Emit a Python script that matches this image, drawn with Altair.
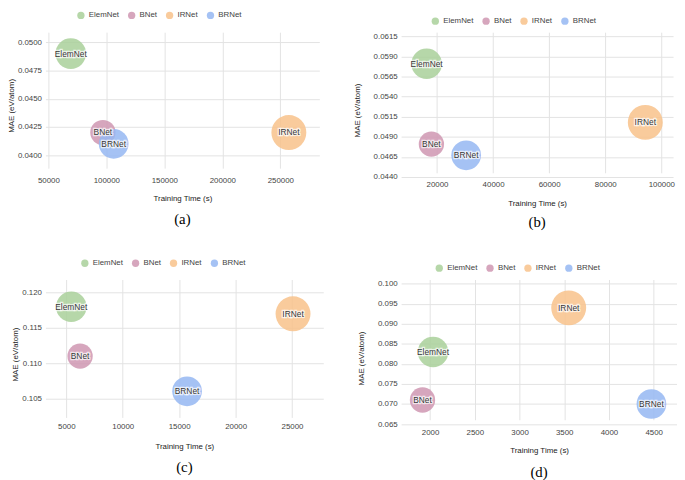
import altair as alt
import pandas as pd

models = ["ElemNet", "BNet", "IRNet", "BRNet"]
colors = ["#a9d09a", "#cf97b1", "#f8c28b", "#95b7f2"]
bubble_area = [962, 660, 1257, 908]

a_time = [69300, 97000, 257400, 106300]
a_mae = [0.0490, 0.0420, 0.0420, 0.0410]
a_xticks = [50000, 100000, 150000, 200000, 250000]
a_yticks = [0.0400, 0.0425, 0.0450, 0.0475, 0.0500]

b_time = [16300, 18000, 94300, 30400]
b_mae = [0.0581, 0.0481, 0.0508, 0.0467]
b_xticks = [20000, 40000, 60000, 80000, 100000]
b_yticks = [0.0440, 0.0465, 0.0490, 0.0515, 0.0540, 0.0565, 0.0590, 0.0615]

c_time = [5440, 6220, 25090, 15700]
c_mae = [0.118, 0.111, 0.117, 0.106]
c_xticks = [5000, 10000, 15000, 20000, 25000]
c_yticks = [0.105, 0.110, 0.115, 0.120]

d_time = [2033, 1915, 3550, 4475]
d_mae = [0.083, 0.071, 0.094, 0.070]
d_xticks = [2000, 2500, 3000, 3500, 4000, 4500]
d_yticks = [0.065, 0.070, 0.075, 0.080, 0.085, 0.090, 0.095, 0.100]

FONT = "Liberation Sans"


def panel(times, maes, xdom, ydom, xticks, yticks, w, h, ytop, yfmt, lx, ly,
          ytx, yty, xlp, xtp, cap, capoff):
    df = pd.DataFrame({"model": models, "time": times, "mae": maes})
    base = alt.Chart(df)
    x = alt.X("time:Q", scale=alt.Scale(domain=xdom, nice=False, zero=False),
              axis=alt.Axis(values=xticks, format="d", title="Training Time (s)",
                            labelPadding=xlp, titlePadding=xtp))
    y = alt.Y("mae:Q", scale=alt.Scale(domain=ydom, nice=False, zero=False,
                                       range=[h, ytop]),
              axis=alt.Axis(values=yticks, format=yfmt, title="MAE (eV/atom)",
                            titleX=ytx, titleY=yty, labelPadding=4))
    color = alt.Color("model:N", scale=alt.Scale(domain=models, range=colors),
                      legend=alt.Legend(orient="none", legendX=lx, legendY=ly,
                                        direction="horizontal", title=None,
                                        padding=0))
    layers = []
    for m, area in zip(models, bubble_area):
        layers.append(
            base.transform_filter(alt.datum.model == m)
            .mark_circle(opacity=0.85, strokeWidth=0, size=area)
            .encode(x=x, y=y, color=color))
    halo = base.mark_text(font=FONT, fontSize=8.5, fill="white", stroke="white",
                          strokeWidth=2.5, strokeOpacity=0.7).encode(
        x=x, y=y, text="model:N")
    lab = base.mark_text(font=FONT, fontSize=8.5, color="#333").encode(
        x=x, y=y, text="model:N")
    return alt.layer(*layers, halo, lab).properties(
        width=w, height=h,
        title=alt.TitleParams(cap, orient="bottom", anchor="middle", frame="group",
                              offset=capoff, font="Liberation Serif", fontSize=15,
                              fontWeight="normal", color="black"))


pa = panel(a_time, a_mae, [47450, 283700], [0.03884, 0.0509], a_xticks, a_yticks,
           278, 138, 0, ".4f", 32, -21, -30, 74.3, 8.1, 10.8, "(a)", 10.2)
pb = panel(b_time, b_mae, [7200, 104200], [0.0440, 0.0615], b_xticks, b_yticks,
           276, 147, 4.3, ".4f", 30.7, -15.2, -40, 79, 4.1, 10.5, "(b)", 7.9)
pc = panel(c_time, c_mae, [3150, 27770], [0.1023, 0.12187], c_xticks, c_yticks,
           282, 140, 0, ".3f", 36, -20.5, -26, 75.7, 5.2, 12.1, "(c)", 9.9)
pd_ = panel(d_time, d_mae, [1676, 4761], [0.065, 0.100], d_xticks, d_yticks,
            280, 146.7, 4.4, ".3f", 34.7, -15.5, -36, 79.7, 4.5, 10.4, "(d)", 11.2)


def row(l, r):
    return (alt.hconcat(l, r, spacing=35)
            .resolve_scale(color="independent")
            .resolve_legend(color="independent"))


chart = (alt.vconcat(row(pa, pb), row(pc, pd_), spacing=29)
         .resolve_scale(color="independent")
         .resolve_legend(color="independent")
         .properties(padding=0)
         .configure_view(stroke=None)
         .configure_legend(symbolType="circle", symbolSize=55, symbolStrokeWidth=0,
                           symbolOpacity=0.85, labelFont=FONT, labelFontSize=8,
                           labelColor="#444", columnPadding=8.5, labelOffset=4)
         .configure_axis(domain=False, ticks=False, gridColor="#e3e3e3", gridWidth=1,
                         labelFont=FONT, labelFontSize=8, labelColor="#444",
                         labelFlush=False, labelOverlap=False,
                         titleFont=FONT, titleFontSize=8, titleFontWeight="normal",
                         titleColor="#222"))

chart.save("out.html", embed_options={"renderer": "svg", "actions": False})
